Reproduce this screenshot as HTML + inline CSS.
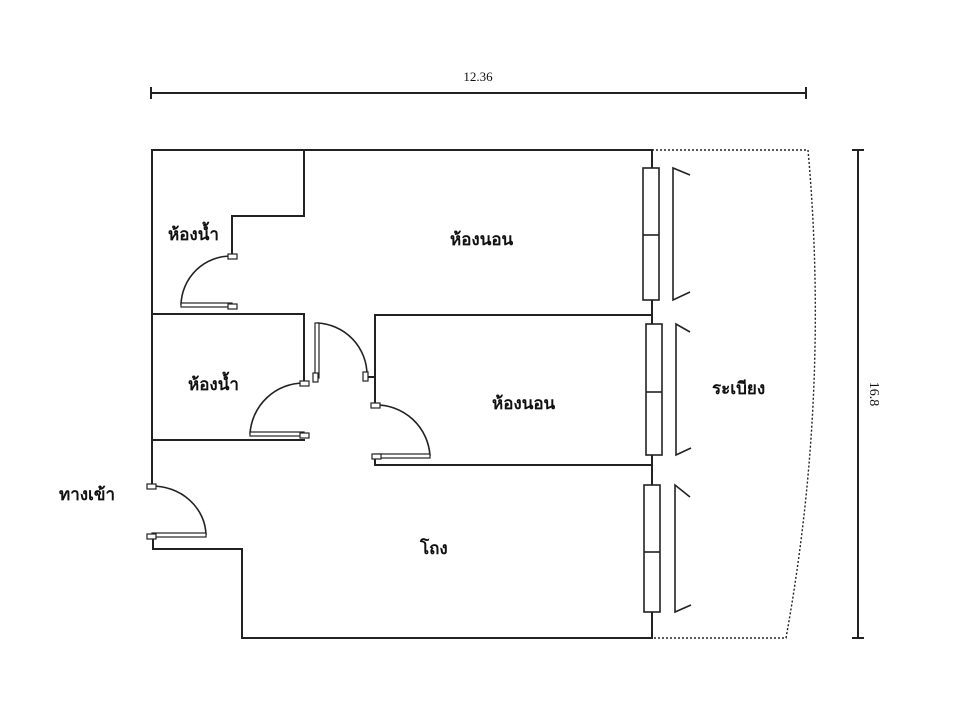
<!DOCTYPE html>
<html><head><meta charset="utf-8"><style>
html,body{margin:0;padding:0;background:#fff;}
svg{display:block;}
text{font-family:"Liberation Serif","Noto Serif CJK SC",serif;fill:#111;}
</style></head><body>
<svg width="960" height="720" viewBox="0 0 960 720" xmlns="http://www.w3.org/2000/svg">
<g stroke="#222" stroke-width="2" fill="none">
<!-- dimension -->
<line x1="151" y1="93" x2="806" y2="93"/>
<line x1="151" y1="87" x2="151" y2="99"/>
<line x1="806" y1="87" x2="806" y2="99"/>
<line x1="858" y1="150" x2="858" y2="638"/>
<line x1="852" y1="150" x2="864" y2="150"/>
<line x1="852" y1="638" x2="864" y2="638"/>
<!-- outer walls -->
<polyline points="152,486 152,150 652,150 652,638 242,638 242,549 153,549 153,537"/>
<!-- bath 1 -->
<polyline points="304,150 304,216 232,216 232,256"/>
<polyline points="152,314 304,314 304,383"/>
<!-- bath 2 bottom -->
<line x1="152" y1="440" x2="305" y2="440"/>
<!-- bedroom 2 -->
<polyline points="375,405 375,315 652,315"/>
<line x1="366" y1="377" x2="375" y2="377"/>
<polyline points="375,456 375,465 652,465"/>
<!-- door arcs -->
<path d="M232,256 A50,50 0 0 0 181,305" stroke-width="1.6"/>
<path d="M304,383 A54,54 0 0 0 250,434" stroke-width="1.6"/>
<path d="M317,323 A52,52 0 0 1 367,375" stroke-width="1.6"/>
<path d="M375,405 A54,54 0 0 1 430,456" stroke-width="1.6"/>
<path d="M152,486 A54,50 0 0 1 206,535" stroke-width="1.6"/>
</g>
<!-- door leaves -->
<g stroke="#222" stroke-width="1.2" fill="#fff">
<rect x="181" y="303" width="51" height="4"/>
<rect x="250" y="432" width="54" height="4"/>
<rect x="315" y="323" width="4" height="55"/>
<rect x="375" y="454" width="55" height="4"/>
<rect x="152" y="533" width="54" height="4"/>
<!-- hinge markers -->
<rect x="228" y="254" width="9" height="5"/>
<rect x="228" y="304" width="9" height="5"/>
<rect x="300" y="381" width="9" height="5"/>
<rect x="300" y="433" width="9" height="5"/>
<rect x="313" y="373" width="5" height="9"/>
<rect x="363" y="372" width="5" height="9"/>
<rect x="371" y="403" width="9" height="5"/>
<rect x="372" y="454" width="9" height="5"/>
<rect x="147" y="484" width="9" height="5"/>
<rect x="147" y="534" width="9" height="5"/>
</g>
<!-- windows -->
<g stroke="#222" stroke-width="1.6" fill="#fff">
<rect x="643" y="168" width="16" height="132"/>
<line x1="643" y1="235" x2="659" y2="235"/>
<rect x="646" y="324" width="16" height="131"/>
<line x1="646" y1="392" x2="662" y2="392"/>
<rect x="644" y="485" width="16" height="127"/>
<line x1="644" y1="552" x2="660" y2="552"/>
</g>
<g stroke="#222" stroke-width="1.6" fill="none">
<polyline points="690,175 673,168 673,300 690,292"/>
<polyline points="690,332 676,324 676,455 691,448"/>
<polyline points="690,497 675,485 675,612 691,605"/>
<path d="M652,150 L808,150 Q830,395 786,638 L652,638" stroke-dasharray="2,2" stroke-width="1.4"/>
</g>
<!-- labels -->
<text x="478" y="81" font-size="13" text-anchor="middle">12.36</text>
<text x="870" y="394" font-size="14" text-anchor="middle" transform="rotate(90 870 394)">16.8</text>
<g font-family="'Liberation Sans','Noto Sans CJK SC',sans-serif" font-size="17" font-weight="bold">
<text x="168" y="240" style="font-family:'Liberation Sans','Noto Sans CJK SC',sans-serif">ห้องน้ำ</text>
<text x="450" y="245" style="font-family:'Liberation Sans','Noto Sans CJK SC',sans-serif">ห้องนอน</text>
<text x="188" y="390" style="font-family:'Liberation Sans','Noto Sans CJK SC',sans-serif">ห้องน้ำ</text>
<text x="492" y="409" style="font-family:'Liberation Sans','Noto Sans CJK SC',sans-serif">ห้องนอน</text>
<text x="712" y="394" style="font-family:'Liberation Sans','Noto Sans CJK SC',sans-serif">ระเบียง</text>
<text x="59" y="500" style="font-family:'Liberation Sans','Noto Sans CJK SC',sans-serif">ทางเข้า</text>
<text x="420" y="554" style="font-family:'Liberation Sans','Noto Sans CJK SC',sans-serif">โถง</text>
</g>
</svg>
</body></html>
